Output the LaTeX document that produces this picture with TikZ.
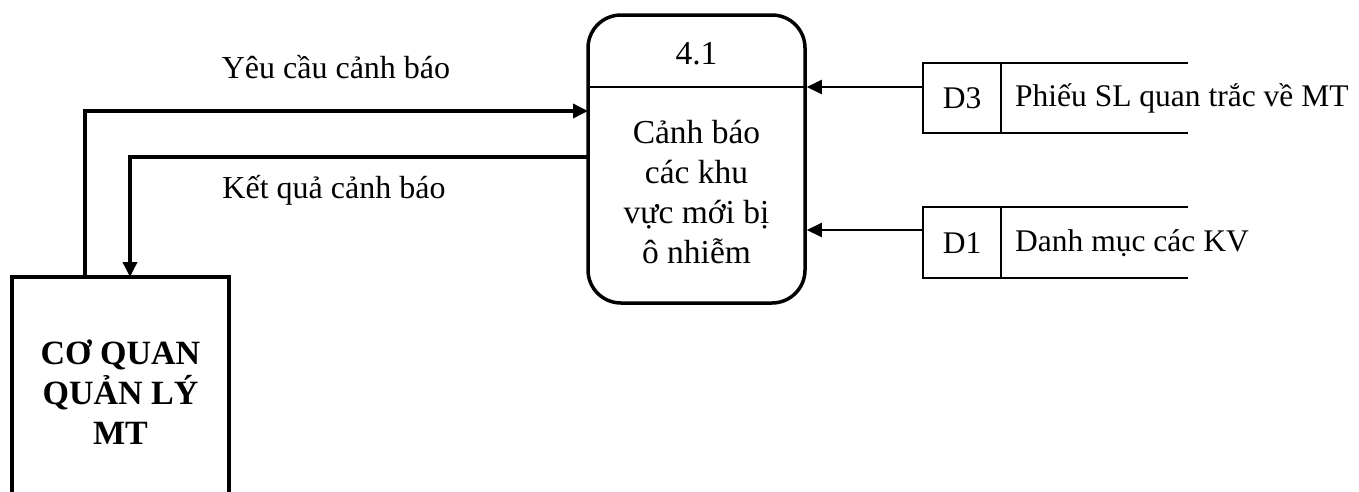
\documentclass[tikz,border=0pt]{standalone}
\usepackage{fontspec}
\setmainfont{Liberation Serif}
\usetikzlibrary{arrows.meta}
\begin{document}
\begin{tikzpicture}[x=1pt,y=-1pt,
  txt/.style={font=\fontsize{31.5}{39.5}\selectfont, inner sep=0pt},
  ptxt/.style={font=\fontsize{33.5}{40}\selectfont, inner sep=0pt},
  ltxt/.style={font=\fontsize{32}{39.5}\selectfont, inner sep=0pt},
  btxt/.style={font=\fontsize{34}{40}\selectfont\bfseries, inner sep=0pt, align=center},
  procbox/.style={draw, line width=3.5pt, rounded corners=33pt, minimum width=217pt, minimum height=288pt, inner sep=0pt},
  entbox/.style={draw, line width=4pt, minimum width=217pt, minimum height=223pt, inner sep=0pt},
  storeline/.style={line width=2pt},
  lflow/.style={line width=3.5pt, -{Triangle[length=15pt,width=14pt]}},
  dflow/.style={line width=2pt, -{Triangle[length=15pt,width=14pt]}}
]
\clip (0,0) rectangle (1359,491);
% process
\node[procbox] (proc) at (696.5,159) {};
\draw[storeline] (588,87) -- (805,87);
\node[ptxt, anchor=base] (pnum) at (696.5,64) {4.1};
\node[ptxt, align=center] (pname) at (696.5,192) {Cảnh báo\\các khu\\vực mới bị\\ô nhiễm};
% external entity
\node[entbox] (ent) at (120.5,388.5) {};
\node[btxt] (entlbl) at (120.5,392) {CƠ QUAN\\QUẢN LÝ\\MT};
% data stores
\draw[storeline] (1188,63) -- (923,63) -- (923,133) -- (1188,133);
\draw[storeline] (1001,63) -- (1001,133);
\node[txt] (d3id) at (962,98) {D3};
\node[txt, anchor=west] (d3name) at (1015,98) {Phiếu SL quan trắc về MT};
\draw[storeline] (1188,207) -- (923,207) -- (923,278) -- (1188,278);
\draw[storeline] (1001,207) -- (1001,278);
\node[txt] (d1id) at (962,243) {D1};
\node[txt, anchor=west] (d1name) at (1015,243) {Danh mục các KV};
% connectors
\coordinate (d3out) at (923,87);
\coordinate (d1out) at (923,230);
\draw[dflow] (d3out) -- (proc.east |- d3out);
\draw[dflow] (d1out) -- (proc.east |- d1out);
\coordinate (ys) at (85,277);
\coordinate (pin) at (588,111);
\coordinate (pout) at (588,157);
\coordinate (ein) at (130,277);
\draw[lflow] (ys) |- (pin);
\draw[lflow] (pout) -| (ein);
\node[ltxt, anchor=base] (l1) at (336,78) {Yêu cầu cảnh báo};
\node[ltxt, anchor=base] (l2) at (334,198) {Kết quả cảnh báo};
\end{tikzpicture}
\end{document}
